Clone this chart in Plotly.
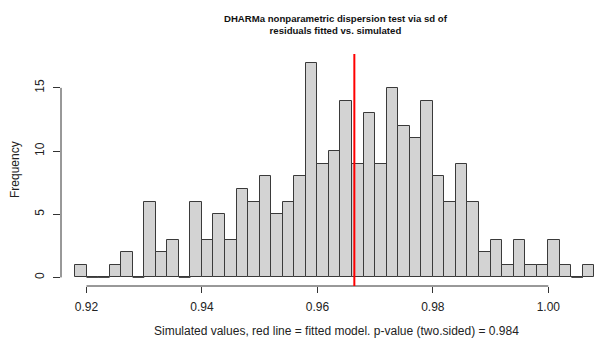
import plotly.graph_objects as go

# Histogram data (bin start 0.918, bin width 0.002)
bin_start = 0.918
bin_width = 0.002
counts = [1, 0, 0, 1, 2, 0, 6, 2, 3, 0, 6, 3, 5, 3, 7, 6, 8, 5, 6, 8, 17, 9,
          10, 14, 9, 13, 9, 15, 12, 11, 14, 8, 6, 9, 6, 2, 3, 1, 3, 1, 1, 3, 1, 0, 1]
observed = 0.9664
x_ticks = [0.92, 0.94, 0.96, 0.98, 1.00]
x_tick_labels = ["0.92", "0.94", "0.96", "0.98", "1.00"]
y_ticks = [0, 5, 10, 15]
title_text = "DHARMa nonparametric dispersion test via sd of<br>residuals fitted vs. simulated"
x_label = "Simulated values, red line = fitted model. p-value (two.sided) = 0.984"
y_label = "Frequency"

centers = [bin_start + bin_width * (i + 0.5) for i in range(len(counts))]

W, H = 595, 339
ml, mr, mt, mb = 61, 0, 54, 53
px_per_unit = 5772.5
x0 = 0.92 - (86.5 - ml) / px_per_unit
x1 = 0.92 + (W - mr - 86.5) / px_per_unit

fig = go.Figure()
fig.add_trace(go.Bar(
    x=centers, y=counts, width=bin_width,
    marker=dict(color="#D3D3D3", line=dict(color="#3a3a3a", width=1)),
    hoverinfo="x+y", showlegend=False,
))
# zero-height bins drawn as flat outline, as in R
for c, n in zip(centers, counts):
    if n == 0:
        fig.add_trace(go.Scatter(x=[c - bin_width / 2, c + bin_width / 2], y=[0, 0],
                                 mode="lines", line=dict(color="#3a3a3a", width=1),
                                 showlegend=False, hoverinfo="skip"))

font = "Liberation Sans, Arial, Helvetica, sans-serif"
fig.update_layout(
    width=W, height=H,
    margin=dict(l=ml, r=mr, t=mt, b=mb, pad=0),
    paper_bgcolor="white", plot_bgcolor="white",
    bargap=0,
    font=dict(family=font, size=12, color="black"),
    xaxis=dict(range=[x0, x1], tickvals=x_ticks, ticktext=x_tick_labels,
               ticks="outside", ticklen=6, tickcolor="#333", tickwidth=1,
               showline=False, showgrid=False, zeroline=False,
               tickfont=dict(size=12, color="#222"), ticklabelstandoff=4),
    yaxis=dict(range=[-0.68, 17.68], tickvals=y_ticks, ticks="outside", ticklen=7,
               tickcolor="#333", tickwidth=1, tickangle=-90,
               showline=False, showgrid=False, zeroline=False,
               tickfont=dict(size=12, color="#222"), ticklabelstandoff=4),
    shapes=[
        dict(type="line", xref="x", yref="paper", x0=x_ticks[0], x1=x_ticks[-1], y0=0, y1=0,
             line=dict(color="#333", width=1)),
        dict(type="line", xref="paper", yref="y", x0=0, x1=0, y0=y_ticks[0], y1=y_ticks[-1],
             line=dict(color="#333", width=1)),
        dict(type="line", xref="x", yref="paper", x0=observed, x1=observed, y0=0, y1=1,
             line=dict(color="red", width=2)),
    ],
    annotations=[
        dict(text="<b>" + title_text.replace("<br>", "</b><br><b>") + "</b>",
             xref="paper", yref="paper", x=(336 - ml) / (W - ml - mr), y=1,
             yshift=54 - 24, xanchor="center", yanchor="middle", showarrow=False,
             font=dict(size=9.6, color="#111")),
        dict(text=x_label, xref="paper", yref="paper", x=(336 - ml) / (W - ml - mr), y=0,
             yshift=-(331 - 286), xanchor="center", yanchor="middle", showarrow=False,
             font=dict(size=12, color="#222")),
        dict(text=y_label, xref="paper", yref="paper", x=0, y=0.5, xshift=-(61 - 15),
             xanchor="center", yanchor="middle", textangle=-90, showarrow=False,
             font=dict(size=12, color="#222")),
    ],
)
fig.write_html("out.html")
